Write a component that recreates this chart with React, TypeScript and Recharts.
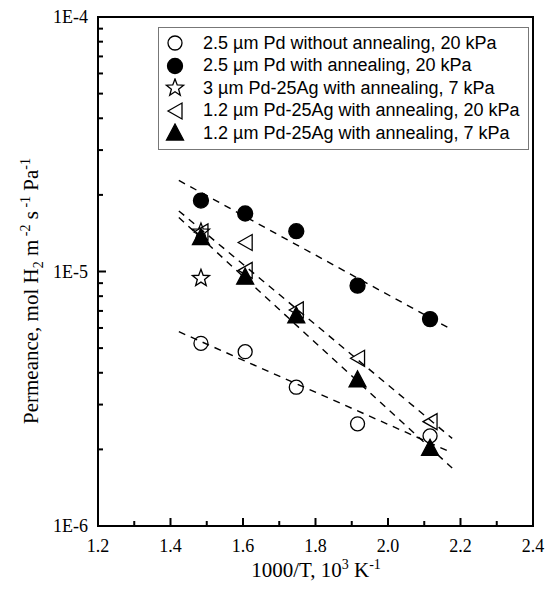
import { ComposedChart, Scatter, XAxis, YAxis, ReferenceArea } from 'recharts';

// x ticks (1000/T), major ones get a label
const xTicks = [1.2, 1.3, 1.4, 1.5, 1.6, 1.7, 1.8, 1.9, 2.0, 2.1, 2.2, 2.3, 2.4];
const xTickLabels = ['1.2', '1.4', '1.6', '1.8', '2.0', '2.2', '2.4'];

// log y ticks, decades labelled
const yTicks = [
  1e-6, 2e-6, 3e-6, 4e-6, 5e-6, 6e-6, 7e-6, 8e-6, 9e-6,
  1e-5, 2e-5, 3e-5, 4e-5, 5e-5, 6e-5, 7e-5, 8e-5, 9e-5, 1e-4,
];
const yMajor = [1e-6, 1e-5, 1e-4];
const yTickLabels = ['1E-6', '1E-5', '1E-4'];

// measured points
const pdX = [1.484, 1.606, 1.747, 1.916, 2.116];
const pdNoAnneal = [5.22e-6, 4.84e-6, 3.51e-6, 2.52e-6, 2.26e-6];
const pdAnneal = [1.9e-5, 1.69e-5, 1.44e-5, 8.8e-6, 6.5e-6];

const thickAgX = [1.484, 1.484];
const thickAg7 = [1.43e-5, 9.4e-6];

const thinAg20X = [1.484, 1.606, 1.606, 1.747, 1.916, 2.116];
const thinAg20 = [1.43e-5, 1.3e-5, 1.01e-5, 7.06e-6, 4.56e-6, 2.57e-6];

const thinAg7X = [1.484, 1.606, 1.747, 1.916, 2.116];
const thinAg7 = [1.36e-5, 9.5e-6, 6.7e-6, 3.75e-6, 2.02e-6];

// dashed fit lines (end points)
const fitX = [1.423, 2.177];
const fitPdAnneal = [2.28e-5, 5.9e-6];
const fitPdNoAnneal = [5.8e-6, 1.94e-6];
const fitThinAg20 = [1.73e-5, 2.21e-6];
const fitThinAg7 = [1.63e-5, 1.69e-6];

const legendLabels = [
  '2.5 \u00b5m Pd without annealing, 20 kPa',
  '2.5 \u00b5m Pd with annealing, 20 kPa',
  '3 \u00b5m Pd-25Ag with annealing, 7 kPa',
  '1.2 \u00b5m Pd-25Ag with annealing, 20 kPa',
  '1.2 \u00b5m Pd-25Ag with annealing, 7 kPa',
];

const toPoints = (xs: number[], ys: number[]) => xs.map((x, i) => ({ x, y: ys[i] }));

const serif = '"Liberation Serif", "Times New Roman", serif';
const sans = '"Liberation Sans", Arial, sans-serif';

const W = 546;
const H = 589;
const margin = { top: 17, right: 13, bottom: 0, left: 0 };
const yAxisWidth = 98;
const xAxisHeight = 63;

type Marker = 'openCircle' | 'filledCircle' | 'star' | 'leftTri' | 'upTri';

function starPath(cx: number, cy: number, ro: number, ri: number) {
  let d = '';
  for (let i = 0; i < 10; i++) {
    const r = i % 2 === 0 ? ro : ri;
    const a = -Math.PI / 2 + (i * Math.PI) / 5;
    d += (i === 0 ? 'M' : 'L') + (cx + r * Math.cos(a)).toFixed(2) + ',' + (cy + r * Math.sin(a)).toFixed(2);
  }
  return d + 'Z';
}

function MarkerShape({ kind, cx, cy }: { kind: Marker; cx: number; cy: number }) {
  const sw = 1.3;
  switch (kind) {
    case 'openCircle':
      return <circle cx={cx} cy={cy} r={7} fill="none" stroke="#000" strokeWidth={sw} />;
    case 'filledCircle':
      return <circle cx={cx} cy={cy} r={7.5} fill="#000" stroke="#000" strokeWidth={sw} />;
    case 'star':
      return <path d={starPath(cx, cy, 9, 3.8)} fill="none" stroke="#000" strokeWidth={sw} />;
    case 'leftTri':
      return (
        <polygon
          points={`${cx - 7},${cy} ${cx + 7},${cy - 8} ${cx + 7},${cy + 8}`}
          fill="none"
          stroke="#000"
          strokeWidth={sw}
        />
      );
    case 'upTri':
      return (
        <polygon
          points={`${cx},${cy - 9} ${cx - 8.5},${cy + 7} ${cx + 8.5},${cy + 7}`}
          fill="#000"
          stroke="#000"
          strokeWidth={sw}
        />
      );
  }
  return null;
}

const legendMarkers: Marker[] = ['openCircle', 'filledCircle', 'star', 'leftTri', 'upTri'];

function XTick(props: any) {
  const x = Number(props.x);
  const y = Number(props.y);
  const v = Number(props.payload.value);
  const idx = xTickLabels.indexOf(v.toFixed(1));
  const major = idx >= 0;
  const len = major ? 8 : 5;
  return (
    <g>
      <line x1={x} x2={x} y1={y} y2={y - len} stroke="black" strokeWidth={2} />
      {major && (
        <text x={x} y={y + 26} textAnchor="middle" fontFamily={serif} fontSize={18} fill="#000">
          {xTickLabels[idx]}
        </text>
      )}
    </g>
  );
}

function YTick(props: any) {
  const x = Number(props.x);
  const y = Number(props.y);
  const v = Number(props.payload.value);
  const idx = yMajor.findIndex((m) => Math.abs(m - v) / m < 1e-6);
  const major = idx >= 0;
  const len = major ? 8 : 5;
  return (
    <g>
      <line x1={x} x2={x + len} y1={y} y2={y} stroke="black" strokeWidth={2} />
      {major && (
        <text x={x - 10} y={y + 6} textAnchor="end" fontFamily={serif} fontSize={18} fill="#000">
          {yTickLabels[idx]}
        </text>
      )}
    </g>
  );
}

function LegendBox() {
  return (
    <div
      style={{
        position: 'absolute',
        left: 158,
        top: 27,
        border: '1px solid #777',
        background: '#fff',
        padding: '4px 8px 4px 4px',
        fontFamily: sans,
        fontSize: 18,
        color: '#000',
        whiteSpace: 'nowrap',
      }}
    >
      {legendLabels.map((label, i) => (
        <div key={label} style={{ display: 'flex', alignItems: 'center', height: 22.5 }}>
          <svg width={24} height={20} style={{ marginRight: 16, flex: 'none' }}>
            <MarkerShape kind={legendMarkers[i]} cx={12} cy={10} />
          </svg>
          <span>{label}</span>
        </div>
      ))}
    </div>
  );
}

// axis titles as plain html text next to the chart
function AxisTitles() {
  const sup = { fontSize: 14, verticalAlign: 'super' as const, lineHeight: 0 };
  const sub = { fontSize: 14, verticalAlign: 'sub' as const, lineHeight: 0 };
  return (
    <>
      <div
        style={{
          position: 'absolute',
          left: 31,
          top: 291,
          transform: 'translate(-50%, -50%) rotate(-90deg)',
          whiteSpace: 'nowrap',
          fontFamily: serif,
          fontSize: 21,
          lineHeight: '24px',
          color: '#000',
        }}
      >
        Permeance, mol H<span style={sub}>2</span> m<span style={sup}> -2</span> s
        <span style={sup}> -1</span> Pa<span style={sup}>-1</span>
      </div>
      <div
        style={{
          position: 'absolute',
          left: 316,
          top: 570,
          transform: 'translate(-50%, -50%)',
          whiteSpace: 'nowrap',
          fontFamily: serif,
          fontSize: 21,
          lineHeight: '24px',
          color: '#000',
        }}
      >
        1000/T, 10<span style={sup}>3</span> K<span style={sup}>-1</span>
      </div>
    </>
  );
}

// plot frame drawn around the plot area that the chart margins define
function Frame() {
  const left = margin.left + yAxisWidth;
  const top = margin.top;
  const width = W - left - margin.right;
  const height = H - top - margin.bottom - xAxisHeight;
  return (
    <div
      style={{
        position: 'absolute',
        left: left - 1,
        top: top - 1,
        width: width + 2,
        height: height + 2,
        boxSizing: 'border-box',
        border: '2px solid #000',
        pointerEvents: 'none',
      }}
    />
  );
}

const dashed = { stroke: '#000', strokeWidth: 1.4, strokeDasharray: '7 6' };
const noDot = () => <g />;

export default function App() {
  return (
    <div style={{ position: 'absolute', left: 0, top: 0, width: W, height: H, background: '#fff' }}>
      <ComposedChart width={W} height={H} margin={margin}>
        <ReferenceArea x1={1.2} x2={2.4} y1={1e-6} y2={1e-4} fill="none" stroke="#000" strokeWidth={2} />
        <XAxis
          type="number"
          dataKey="x"
          domain={[1.2, 2.4]}
          ticks={xTicks}
          interval={0}
          allowDataOverflow
          axisLine={false}
          tickLine={false}
          tickSize={0}
          tickMargin={0}
          height={xAxisHeight}
          tick={<XTick />}
        />
        <YAxis
          type="number"
          dataKey="y"
          scale="log"
          domain={[1e-6, 1e-4]}
          ticks={yTicks}
          interval={0}
          allowDataOverflow
          axisLine={false}
          tickLine={false}
          tickSize={0}
          tickMargin={0}
          width={yAxisWidth}
          tick={<YTick />}
        />

        <Scatter data={toPoints(fitX, fitPdAnneal)} line={dashed} shape={noDot} isAnimationActive={false} />
        <Scatter data={toPoints(fitX, fitPdNoAnneal)} line={dashed} shape={noDot} isAnimationActive={false} />
        <Scatter data={toPoints(fitX, fitThinAg20)} line={dashed} shape={noDot} isAnimationActive={false} />
        <Scatter data={toPoints(fitX, fitThinAg7)} line={dashed} shape={noDot} isAnimationActive={false} />

        <Scatter
          name={legendLabels[0]}
          data={toPoints(pdX, pdNoAnneal)}
          shape={(p: any) => <MarkerShape kind="openCircle" cx={p.cx} cy={p.cy} />}
          isAnimationActive={false}
        />
        <Scatter
          name={legendLabels[1]}
          data={toPoints(pdX, pdAnneal)}
          shape={(p: any) => <MarkerShape kind="filledCircle" cx={p.cx} cy={p.cy} />}
          isAnimationActive={false}
        />
        <Scatter
          name={legendLabels[2]}
          data={toPoints(thickAgX, thickAg7)}
          shape={(p: any) => <MarkerShape kind="star" cx={p.cx} cy={p.cy} />}
          isAnimationActive={false}
        />
        <Scatter
          name={legendLabels[3]}
          data={toPoints(thinAg20X, thinAg20)}
          shape={(p: any) => <MarkerShape kind="leftTri" cx={p.cx} cy={p.cy} />}
          isAnimationActive={false}
        />
        <Scatter
          name={legendLabels[4]}
          data={toPoints(thinAg7X, thinAg7)}
          shape={(p: any) => <MarkerShape kind="upTri" cx={p.cx} cy={p.cy} />}
          isAnimationActive={false}
        />
      </ComposedChart>
      <Frame />
      <AxisTitles />
      <LegendBox />
    </div>
  );
}
